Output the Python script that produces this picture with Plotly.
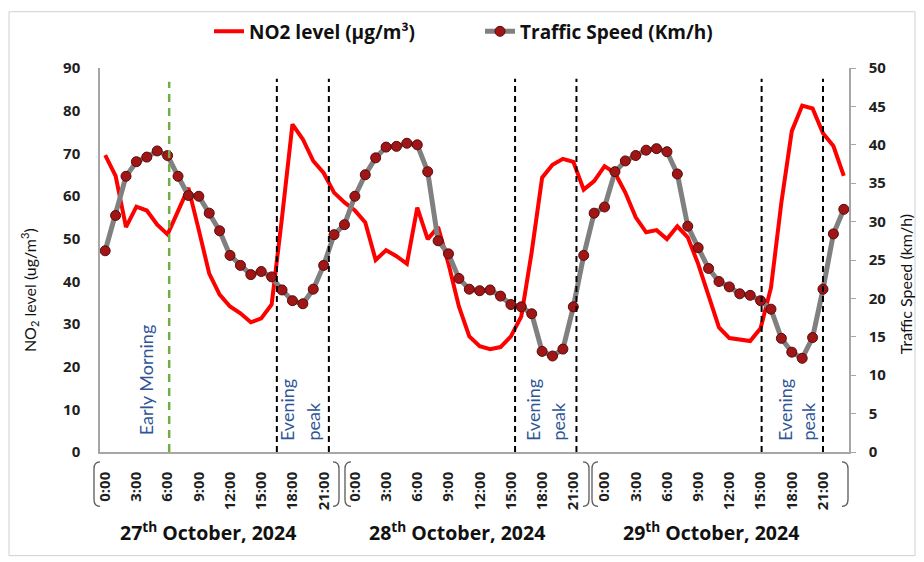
import plotly.graph_objects as go

# ---------------- data ----------------
days = ["27<sup>th</sup> October, 2024", "28<sup>th</sup> October, 2024", "29<sup>th</sup> October, 2024"]
hour_labels = ["0:00", "3:00", "6:00", "9:00", "12:00", "15:00", "18:00", "21:00"]

no2_day1 = [69.6, 64.7, 52.7, 57.5, 56.6, 53.3, 51.0, 56.6, 61.9, 52.0, 41.8, 36.9,
            34.1, 32.5, 30.4, 31.3, 34.6, 55.0, 76.8, 73.3, 68.2, 65.4, 60.8, 58.5]
no2_day2 = [56.6, 53.8, 45.0, 47.3, 45.9, 44.1, 57.3, 49.9, 52.7, 44.1, 34.1, 27.1,
            24.8, 24.1, 24.6, 27.1, 31.8, 46.9, 64.3, 67.3, 68.7, 68.0, 61.5, 63.5]
no2_day3 = [67.0, 65.4, 60.8, 55.0, 51.5, 52.0, 49.9, 52.9, 50.3, 44.1, 36.9, 29.2,
            26.7, 26.4, 26.0, 29.0, 38.5, 58.5, 75.2, 81.2, 80.5, 74.7, 71.7, 64.7]

speed_day1 = [26.2, 30.8, 35.9, 37.8, 38.4, 39.2, 38.6, 35.9, 33.4, 33.3, 31.1, 28.8,
              25.6, 24.3, 23.1, 23.5, 22.8, 21.1, 19.7, 19.3, 21.2, 24.3, 28.3, 29.6]
speed_day2 = [33.3, 36.1, 38.3, 39.7, 39.8, 40.2, 40.0, 36.5, 27.5, 25.8, 22.6, 21.2,
              21.0, 21.1, 20.3, 19.2, 18.9, 18.0, 13.1, 12.5, 13.4, 18.9, 25.6, 31.1]
speed_day3 = [31.9, 36.5, 37.9, 38.6, 39.3, 39.5, 39.1, 36.2, 29.4, 26.6, 23.9, 22.2,
              21.5, 20.6, 20.4, 19.7, 18.6, 14.8, 13.0, 12.2, 14.9, 21.2, 28.4, 31.6]

# reference lines (hour index along the 72-hour axis)
early_morning_line = [6.15]
evening_lines = [16.5, 21.5, 39.4, 45.3, 63.1, 69.0]

# --------------- build ----------------
no2 = no2_day1 + no2_day2 + no2_day3
speed = speed_day1 + speed_day2 + speed_day3
idx = list(range(len(no2)))
tickvals = [d * 24 + h for d in range(3) for h in range(0, 24, 3)]
ticktext = hour_labels * 3

PL, PR, PT, PB = 100, 849, 63, 452
W, H = 924, 562
def fx(px):
    return (px - PL) / (PR - PL)
def fy(py):
    return (PB - py) / (PB - PT)

fig = go.Figure()
fig.add_trace(go.Scatter(
    x=idx, y=no2, name="NO2 level (µg/m³)", mode="lines",
    line=dict(color="#FF0000", width=4), yaxis="y"))
fig.add_trace(go.Scatter(
    x=idx, y=speed, name="Traffic Speed (Km/h)", mode="lines+markers",
    line=dict(color="#808080", width=5),
    marker=dict(symbol="circle", size=10, color="#A01515",
                line=dict(color="#5A0A0A", width=1)),
    yaxis="y2"))

shapes = []
# outer border
shapes.append(dict(type="rect", xref="paper", yref="paper",
                   x0=fx(9), x1=fx(915), y0=fy(557), y1=fy(6),
                   line=dict(color="#D0D0D0", width=1), layer="below"))
for xv in early_morning_line:
    shapes.append(dict(type="line", xref="x", yref="paper", x0=xv, x1=xv,
                       y0=0, y1=fy(77), line=dict(color="#70AD47", width=2.5, dash="8px,6px")))
for xv in evening_lines:
    shapes.append(dict(type="line", xref="x", yref="paper", x0=xv, x1=xv,
                       y0=0, y1=fy(74), line=dict(color="#000000", width=2, dash="6px,4px")))

# brackets grouping the days
def bracket(xo, xi, yt=462, yb=507, r=7):
    return ("M {a},{b} Q {c},{b} {c},{d} L {c},{e} Q {c},{f} {a},{f}".format(
        a=fx(xi), b=fy(yt), c=fx(xo), d=fy(yt + r), e=fy(yb - r), f=fy(yb)))
for xo, xi in [(94, 100), (339, 333), (345, 351), (589, 583), (592, 598), (848, 842)]:
    shapes.append(dict(type="path", xref="paper", yref="paper", path=bracket(xo, xi),
                       line=dict(color="#595959", width=1.3)))

annotations = []
day_centers = [208, 457, 711]
for d, cx in zip(days, day_centers):
    annotations.append(dict(text="<b>" + d + "</b>", xref="paper", yref="paper",
                            x=fx(cx), y=fy(533), xanchor="center", yanchor="middle",
                            showarrow=False,
                            font=dict(family="Open Sans", size=19.5, color="#111111")))
blue = "#2F5597"
annotations.append(dict(text="Early Morning", textangle=-90, xref="paper", yref="paper",
                        x=fx(146), y=fy(437), xanchor="center", yanchor="bottom",
                        showarrow=False, font=dict(family="Lato", size=18, color=blue)))
for ex, px in [(287, 313), (533, 558), (785, 808)]:
    annotations.append(dict(text="Evening", textangle=-90, xref="paper", yref="paper",
                            x=fx(ex), y=fy(443), xanchor="center", yanchor="bottom",
                            showarrow=False, font=dict(family="Lato", size=18, color=blue)))
    annotations.append(dict(text="peak", textangle=-90, xref="paper", yref="paper",
                            x=fx(px), y=fy(443), xanchor="center", yanchor="bottom",
                            showarrow=False, font=dict(family="Lato", size=18, color=blue)))
annotations.append(dict(text="NO<sub>2</sub> level (ug/m<sup>3</sup>)", textangle=-90,
                        xref="paper", yref="paper", x=fx(29), y=fy(288),
                        xanchor="center", yanchor="middle",
                        showarrow=False, font=dict(family="Lato", size=16, color="#111111")))
annotations.append(dict(text="Traffic Speed (km/h)", textangle=-90,
                        xref="paper", yref="paper", x=fx(905), y=fy(282),
                        xanchor="center", yanchor="middle",
                        showarrow=False, font=dict(family="Lato", size=16, color="#111111")))

tickfont = dict(family="Open Sans", size=15, color="#1F1F1F", weight="bold")
fig.update_layout(
    width=W, height=H,
    margin=dict(l=PL, r=W - PR, t=PT, b=H - PB),
    paper_bgcolor="white", plot_bgcolor="white",
    showlegend=True,
    legend=dict(orientation="h", x=fx(209), y=fy(26), xanchor="left", yanchor="middle",
                font=dict(family="Open Sans", size=19, color="#111111", weight="bold"),
                entrywidth=226, entrywidthmode="pixels", bgcolor="rgba(0,0,0,0)"),
    xaxis=dict(range=[-0.5, 71.5], tickmode="array", tickvals=tickvals, ticktext=ticktext,
               tickangle=-90, showgrid=False, zeroline=False, showline=True,
               linecolor="#A6A6A6", linewidth=1.5, ticks="", tickfont=tickfont,
               ticklabelstandoff=12),
    yaxis=dict(range=[0, 90], dtick=10, showgrid=False, zeroline=False, showline=True,
               linecolor="#A6A6A6", linewidth=1.5, ticks="", tickfont=tickfont,
               ticklabelstandoff=15),
    yaxis2=dict(range=[0, 50], dtick=5, overlaying="y", side="right", showgrid=False,
                zeroline=False, showline=True, linecolor="#A6A6A6", linewidth=1.5,
                ticks="outside", ticklen=5, tickcolor="#A6A6A6", tickfont=tickfont,
                ticklabelstandoff=10),
    shapes=shapes, annotations=annotations,
)

fig.write_html("out.html", config={"displayModeBar": False},
               post_script="document.body.style.margin='0';")
